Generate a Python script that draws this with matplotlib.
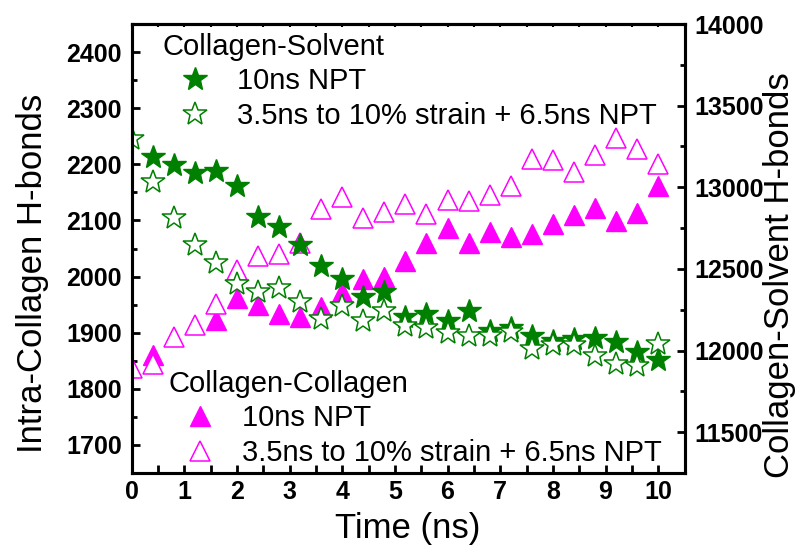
import numpy as np
import matplotlib
matplotlib.use('Agg')
import matplotlib.pyplot as plt
import matplotlib.ticker as ticker
from matplotlib.lines import Line2D

plt.rcParams['font.family'] = ['Liberation Sans', 'DejaVu Sans']

nan = np.nan
time_ns = [0.0, 0.4, 0.8, 1.2, 1.6, 2.0, 2.4, 2.8, 3.2, 3.6, 4.0, 4.4, 4.8,
           5.2, 5.6, 6.0, 6.4, 6.8, 7.2, 7.6, 8.0, 8.4, 8.8, 9.2, 9.6, 10.0]

# Collagen-Collagen (left axis)
cc_npt = [nan, 1860, nan, nan, 1922, 1961, 1949, 1933, 1928, 1945, 1973, 1996, 2000,
          2027, 2059, 2086, 2059, 2079, 2071, 2076, 2094, 2110, 2122, 2099, 2114, 2162]
cc_strain = [1837, 1845, 1893, 1913, 1952, 2011, 2037, 2040, 2059, 2121, 2142, 2105, 2115,
             2130, 2112, 2136, 2135, 2145, 2162, 2210, 2207, 2186, 2217, 2247, 2227, 2200]

# Collagen-Solvent (right axis)
cs_npt = [nan, 13187, 13138, 13089, 13102, 13010, 12820, 12759, 12649, 12520, 12441, 12330, 12361,
          12208, 12226, 12184, 12245, 12120, 12140, 12090, 12061, 12073, 12075, 12055, 11994, 11945]
cs_strain = [13297, 13034, 12814, 12649, 12538, 12410, 12361, 12386, 12300, 12196, 12275, 12178, 12245,
             12153, 12140, 12110, 12092, 12092, 12116, 12012, 12037, 12031, 11966, 11915, 11905, 12043]

green = '#008000'
magenta = '#FF00FF'
ms = 15
ms_star = 18

fig = plt.figure(figsize=(8.01, 5.56), dpi=100)
ax = fig.add_axes([131.5 / 801, 1 - 473 / 556, 553 / 801, 449 / 556])
ax2 = ax.twinx()

ax.plot(time_ns, cc_npt, ls='none', marker='^', ms=ms, color=magenta, mec=magenta)
ax.plot(time_ns, cc_strain, ls='none', marker='^', ms=ms, mfc='white', mec=magenta, mew=1.1)
ax2.plot(time_ns, cs_npt, ls='none', marker='*', ms=ms_star, color=green, mec=green)
ax2.plot(time_ns, cs_strain, ls='none', marker='*', ms=ms_star, mfc='white', mec=green, mew=1.1)

ax.set_xlim(0, 10.5)
ax.set_ylim(1650, 2450)
ax2.set_ylim(11250, 14000)

ax.xaxis.set_major_locator(ticker.MultipleLocator(1))
ax.xaxis.set_minor_locator(ticker.MultipleLocator(0.5))
ax.yaxis.set_minor_locator(ticker.MultipleLocator(50))
ax2.yaxis.set_minor_locator(ticker.MultipleLocator(250))
ax.set_yticks(np.arange(1700, 2401, 100))
ax2.set_yticks(np.arange(11500, 14001, 500))

for a in (ax, ax2):
    for s in a.spines.values():
        s.set_linewidth(2.2)
ax.tick_params(axis='x', which='both', direction='in', length=6, width=2, top=False,
               labelsize=18, pad=5)
ax.tick_params(axis='y', which='major', direction='in', length=6, width=2, labelsize=18, pad=7)
ax.tick_params(axis='y', which='minor', direction='in', length=3.5, width=2)
ax2.tick_params(axis='y', which='major', direction='in', length=6, width=2, labelsize=18, pad=7)
ax2.tick_params(axis='y', which='minor', direction='in', length=3.5, width=2)
for lab in ax.get_xticklabels() + ax.get_yticklabels() + ax2.get_yticklabels():
    lab.set_fontweight('bold')

top = ax.secondary_xaxis('top')
top.xaxis.set_major_locator(ticker.MultipleLocator(0.5))
top.tick_params(direction='in', length=2.5, width=1.5, labeltop=False)
top.spines['top'].set_linewidth(2.2)

ax.set_xlabel('Time (ns)', fontsize=25, labelpad=6)
ax.set_ylabel('Intra-Collagen H-bonds', fontsize=25)
ax.yaxis.set_label_coords(-0.15, 0.445)
ax2.set_ylabel('Collagen-Solvent H-bonds', fontsize=25)
ax2.yaxis.set_label_coords(1.142, 0.44)

leg_kw = dict(frameon=False, fontsize=21, title_fontsize=21, alignment='left',
              handlelength=2.2, handletextpad=0.33, labelspacing=0.22,
              borderpad=0, borderaxespad=0, loc='upper left',
              bbox_transform=fig.transFigure)

h_cs = [Line2D([], [], ls='none', marker='*', ms=ms_star, color=green),
        Line2D([], [], ls='none', marker='*', ms=ms_star, mfc='white', mec=green, mew=1.1)]
leg1 = ax2.legend(h_cs, ['10ns NPT', '3.5ns to 10% strain + 6.5ns NPT'],
                  title='Collagen-Solvent', bbox_to_anchor=(163 / 801, 1 - 33 / 556), **leg_kw)
ax2.add_artist(leg1)

h_cc = [Line2D([], [], ls='none', marker='^', ms=ms, color=magenta),
        Line2D([], [], ls='none', marker='^', ms=ms, mfc='white', mec=magenta, mew=1.1)]
leg2 = ax2.legend(h_cc, ['10ns NPT', '3.5ns to 10% strain + 6.5ns NPT'],
                  title='Collagen-Collagen', bbox_to_anchor=(168 / 801, 1 - 370 / 556), **leg_kw)

fig.savefig('out.png', dpi=100)
